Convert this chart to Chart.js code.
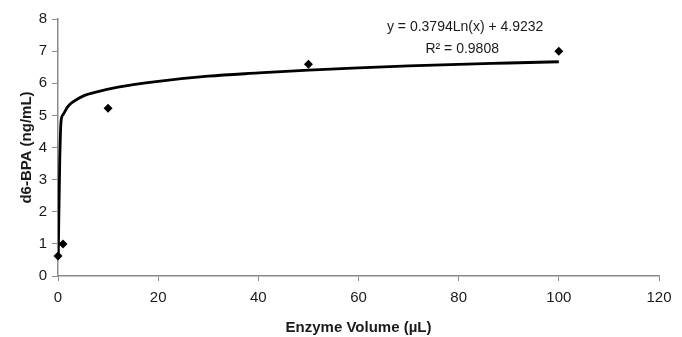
<!DOCTYPE html>
<html>
<head>
<meta charset="utf-8">
<script src="https://cdn.jsdelivr.net/npm/chart.js@4.4.0/dist/chart.umd.min.js"></script>
<style>
  html, body { margin: 0; padding: 0; background: #fff; }
  #wrap { width: 682px; height: 337px; }
</style>
</head>
<body>
<div id="wrap"><canvas id="enzymeChart"></canvas></div>
<script>
    // ===================================
    // DATA
    // ===================================
    const measuredVolume = [0, 1, 10, 50, 100];
    const measuredBPA = [0.62, 1.0, 5.22, 6.59, 7.0];

    // points along the fitted log trend line, as drawn
    const trendVolume = [0.05, 0.35, 0.6, 1, 2, 3, 5, 8, 12, 20, 30, 40, 50, 60, 70, 80, 90, 100];
    const trendBPA = [0.6, 3.6, 4.8, 5.02, 5.28, 5.42, 5.6, 5.74, 5.88, 6.06, 6.22, 6.32, 6.41, 6.48, 6.54, 6.59, 6.63, 6.67];

    const xTicks = [0, 20, 40, 60, 80, 100, 120];
    const yTicks = [0, 1, 2, 3, 4, 5, 6, 7, 8];

    const equationLines = ['y = 0.3794Ln(x) + 4.9232', 'R\u00B2 = 0.9808'];

    const axisColor = '#8a8a8a';
    const fontFamily = '"Liberation Sans", Arial, sans-serif';

    // --- equation label, anchored in data units ---
    const equationPlugin = {
        id: 'equation',
        afterDatasetsDraw(chart) {
            const { ctx, scales } = chart;
            ctx.save();
            ctx.fillStyle = '#1a1a1a';
            ctx.font = '14px ' + fontFamily;
            ctx.textAlign = 'center';
            ctx.textBaseline = 'middle';
            const cx = scales.x.getPixelForValue(81.3);
            ctx.fillText(equationLines[0], cx, scales.y.getPixelForValue(7.75));
            ctx.fillText(equationLines[1], cx - 3, scales.y.getPixelForValue(7.05));
            ctx.restore();
        }
    };

    const config = {
        type: 'scatter',
        data: {
            datasets: [
                {
                    label: 'Measured',
                    data: measuredVolume.map((v, i) => ({ x: v, y: measuredBPA[i] })),
                    pointStyle: 'rectRot',
                    pointRadius: 4.5,
                    backgroundColor: '#000',
                    borderColor: '#000',
                    borderWidth: 0,
                    clip: false
                },
                {
                    label: 'Log trend',
                    type: 'line',
                    data: trendVolume.map((v, i) => ({ x: v, y: trendBPA[i] })),
                    borderColor: '#000',
                    borderWidth: 2.8,
                    pointRadius: 0,
                    cubicInterpolationMode: 'monotone',
                    fill: false
                }
            ]
        },
        options: {
            responsive: true,
            maintainAspectRatio: false,
            animation: false,
            layout: { padding: { top: 19, right: 23, left: 0, bottom: 0 } },
            plugins: {
                legend: { display: false },
                tooltip: { enabled: false }
            },
            scales: {
                x: {
                    type: 'linear',
                    min: 0,
                    max: 120,
                    afterFit(scale) { scale.height = 61; },
                    afterBuildTicks(scale) { scale.ticks = xTicks.map(v => ({ value: v })); },
                    grid: { drawOnChartArea: false, drawTicks: true, tickLength: 5, color: axisColor },
                    border: { color: axisColor, width: 1.5 },
                    ticks: { color: '#1a1a1a', font: { family: fontFamily, size: 15 }, padding: 8, maxRotation: 0 },
                    title: {
                        display: true,
                        text: 'Enzyme Volume (\u00B5L)',
                        color: '#1a1a1a',
                        font: { family: fontFamily, size: 15, weight: 'bold' },
                        padding: { top: 0, bottom: 0 }
                    }
                },
                y: {
                    min: 0,
                    max: 8,
                    afterFit(scale) { scale.width = 58; },
                    afterBuildTicks(scale) { scale.ticks = yTicks.map(v => ({ value: v })); },
                    grid: { drawOnChartArea: false, drawTicks: true, tickLength: 6, color: axisColor },
                    border: { color: axisColor, width: 1.5 },
                    ticks: { color: '#1a1a1a', font: { family: fontFamily, size: 15 }, padding: 5 },
                    title: {
                        display: true,
                        text: 'd6-BPA (ng/mL)',
                        color: '#1a1a1a',
                        font: { family: fontFamily, size: 15, weight: 'bold' },
                        padding: { top: 18, bottom: 0 }
                    }
                }
            }
        },
        plugins: [equationPlugin]
    };

    // --- Render Chart ---
    const ctx = document.getElementById('enzymeChart').getContext('2d');
    new Chart(ctx, config);
</script>
</body>
</html>
